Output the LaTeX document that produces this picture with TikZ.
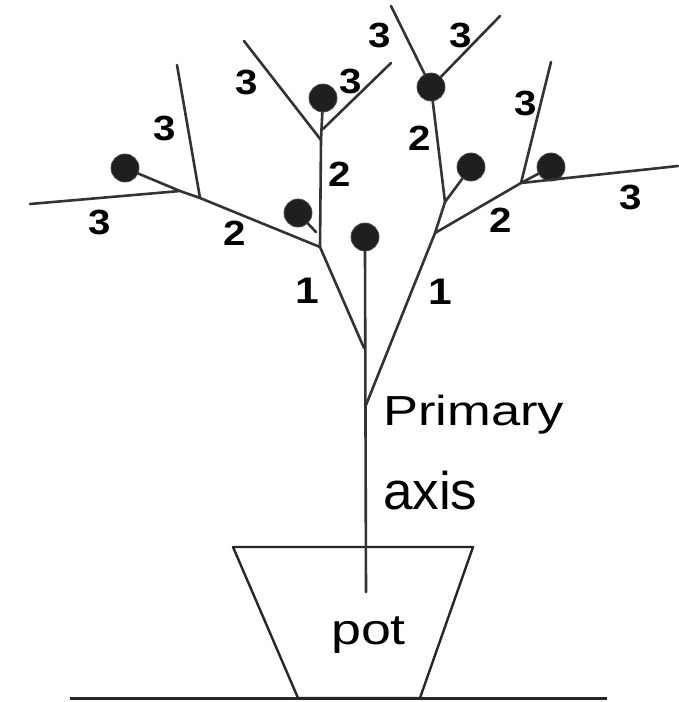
\documentclass[tikz,border=0pt]{standalone}
\usepackage{fontspec}
\newfontfamily\numfont[FakeStretch=1.15]{Liberation Sans Bold}
\newfontfamily\wordfont[FakeStretch=1.25]{Liberation Sans}
\newfontfamily\plainfont{Liberation Sans}
\begin{document}
\begin{tikzpicture}[x=1pt,y=-1pt,
  stem/.style={draw=black!80,line width=2.6pt,line cap=round,line join=round},
  potline/.style={draw=black!85,line width=2.4pt,line join=round},
  bud/.style={circle,fill=black!88,draw=black!70,line width=0.8pt,minimum size=28pt,inner sep=0pt},
  num/.style={font=\numfont\fontsize{35}{40}\selectfont,inner sep=0pt},
  word/.style={font=\wordfont\fontsize{42}{48}\selectfont,inner sep=0pt,anchor=base west},
]
\useasboundingbox (0,0) rectangle (678,702);

% ground and pot
\coordinate (g1) at (70,698);
\coordinate (g2) at (607,698);
\draw[potline,line width=3pt] (g1) -- (g2);
\coordinate (p1) at (233,547);
\coordinate (p2) at (473,547);
\coordinate (p3) at (420,698);
\coordinate (p4) at (298,698);
\draw[potline] (p1) -- (p2) -- (p3) -- (p4) -- cycle;

% primary axis and terminal bud
\coordinate (base) at (366,592);
\coordinate (jL) at (364,348);
\coordinate (jR) at (366,405);
\node[bud] (b0) at (365,237) {};
\draw[stem] (base) -- (b0.south);

% left order-1 branch
\coordinate (L1) at (320,247);
\draw[stem] (jL) -- (L1);

% left order-2 branch and its order-3 shoots
\coordinate (La) at (200,198);
\coordinate (Lb) at (180,191);
\coordinate (Lend) at (30,204);
\coordinate (Lup) at (177,65);
\node[bud] (b1) at (125,168) {};
\draw[stem] (L1) -- (La) -- (Lb) -- (Lend);
\draw[stem] (La) -- (Lup);
\draw[stem] (Lb) -- (b1);

% upper-left order-2 branch
\coordinate (L2) at (321,140);
\coordinate (Ls) at (316,232);
\node[bud] (b2) at (298,213) {};
\node[bud] (b3) at (323,98) {};
\coordinate (L2a) at (244,41);
\coordinate (L2c) at (323,129);
\coordinate (L2b) at (391,63);
\draw[stem] (L1) -- (L2);
\draw[stem] (Ls) -- (b2);
\draw[stem] (L2) -- (b3);
\draw[stem] (L2) -- (L2a);
\draw[stem] (L2c) -- (L2b);

% right order-1 branch
\coordinate (R1) at (435,233);
\coordinate (R1b) at (445,202);
\draw[stem] (jR) -- (R1) -- (R1b);

% right order-2 branch and its order-3 shoots
\coordinate (R2) at (521,183);
\coordinate (Rend) at (678,166);
\coordinate (Rup) at (551,62);
\node[bud] (b4) at (551,167) {};
\draw[stem] (R1) -- (R2) -- (Rend);
\draw[stem] (R2) -- (Rup);
\draw[stem] (R2) -- (b4);

% upper-right order-2 branch
\node[bud] (b5) at (431,87) {};
\node[bud] (b6) at (471,167) {};
\coordinate (R3a) at (391,6);
\coordinate (R3b) at (500,16);
\draw[stem] (R1b) -- (b5);
\draw[stem] (R1b) -- (b6);
\draw[stem] (b5) -- (R3a);
\draw[stem] (b5) -- (R3b);

% branch order labels
\node[num] (n1) at (100,222) {3};
\node[num] (n2) at (235,233) {2};
\node[num] (n3) at (165,128) {3};
\node[num] (n4) at (247,82) {3};
\node[num] (n5) at (351,81) {3};
\node[num] (n6) at (340,174) {2};
\node[num] (n7) at (380,35) {3};
\node[num] (n8) at (461,35) {3};
\node[num] (n9) at (420,138) {2};
\node[num] (n10) at (526,103) {3};
\node[num] (n11) at (501,220) {2};
\node[num] (n12) at (631,197) {3};
\node[num,font=\numfont\fontsize{37}{40}\selectfont] (n13) at (307,291) {1};
\node[num,font=\numfont\fontsize{37}{40}\selectfont] (n14) at (440,292) {1};

% text labels
\node[word] (t1) at (383,425) {Primary};
\node[word,font=\plainfont\fontsize{53}{58}\selectfont] (t2) at (383,509) {axis};
\node[word,font=\wordfont\fontsize{43}{48}\selectfont] (t3) at (331,644) {pot};
\end{tikzpicture}
\end{document}
